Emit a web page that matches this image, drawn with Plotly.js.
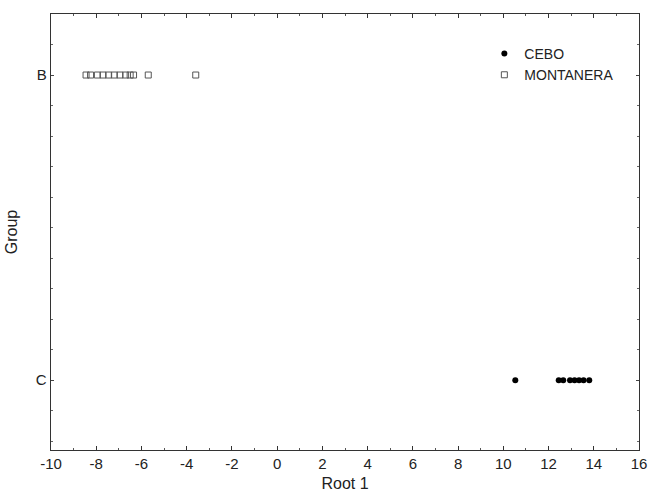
<!DOCTYPE html>
<html>
<head>
<meta charset="utf-8">
<script src="https://cdn.plot.ly/plotly-3.0.1.min.js"></script>
<style>html,body{margin:0;padding:0;background:#fff;}#chart{width:649px;height:492px;}</style>
</head>
<body>
<div id="chart"></div>
<script>
// Group positions on the numeric y axis
const groupLabels = ["B", "C"];
const groupPos = [2, 1];

// CEBO (group C) root scores
const ceboRoot = [10.53, 12.45, 12.65, 12.95, 13.15, 13.35, 13.55, 13.8];
// MONTANERA (group B) root scores
const montRoot = [-8.45, -8.25, -7.95, -7.7, -7.45, -7.2, -6.95, -6.7, -6.5, -6.35, -5.7, -3.6];

const xTicks = [-10, -8, -6, -4, -2, 0, 2, 4, 6, 8, 10, 12, 14, 16];

const fam = "Liberation Sans, Arial, sans-serif";
const font = {family: fam, size: 15, color: "#222"};

const traces = [
  {
    type: "scatter", mode: "markers", name: "CEBO",
    x: ceboRoot, y: ceboRoot.map(() => groupPos[1]),
    marker: {symbol: "circle", size: 6, color: "#000"}
  },
  {
    type: "scatter", mode: "markers", name: "MONTANERA",
    x: montRoot, y: montRoot.map(() => groupPos[0]),
    marker: {symbol: "square-open", size: 6, color: "#555", line: {width: 1, color: "#555"}}
  }
];

const layout = {
  width: 649, height: 492,
  margin: {l: 51, r: 10, t: 14, b: 42},
  paper_bgcolor: "#fff", plot_bgcolor: "#fff",
  font: font,
  showlegend: true,
  legend: {x: 0.737, y: 0.945, xanchor: "left", yanchor: "top", bgcolor: "rgba(0,0,0,0)",
           font: {family: fam, size: 14, color: "#222"}, tracegroupgap: 0, itemwidth: 30},
  xaxis: {
    range: [-10, 16], tickvals: xTicks, ticktext: xTicks.map(String),
    ticks: "inside", ticklen: 4, tickcolor: "#333",
    minor: {dtick: 1, tick0: 0, ticks: "inside", ticklen: 2, tickcolor: "#555"},
    showgrid: false, zeroline: false,
    showline: true, linecolor: "#333", linewidth: 1.3, mirror: "ticks",
    title: {text: "Root 1", font: {family: fam, size: 16, color: "#222"}, standoff: 6},
    tickfont: font
  },
  yaxis: {
    range: [0.771, 2.2], tickvals: groupPos, ticktext: groupLabels,
    ticks: "inside", ticklen: 3, tickcolor: "#444",
    minor: {dtick: 0.1, tick0: 0, ticks: "inside", ticklen: 2, tickcolor: "#666"},
    showgrid: false, zeroline: false,
    showline: true, linecolor: "#333", linewidth: 1.3, mirror: "ticks",
    title: {text: "Group", font: {family: fam, size: 16, color: "#222"}, standoff: 14},
    tickfont: font
  }
};

Plotly.newPlot("chart", traces, layout, {displayModeBar: false, staticPlot: true});
</script>
</body>
</html>
